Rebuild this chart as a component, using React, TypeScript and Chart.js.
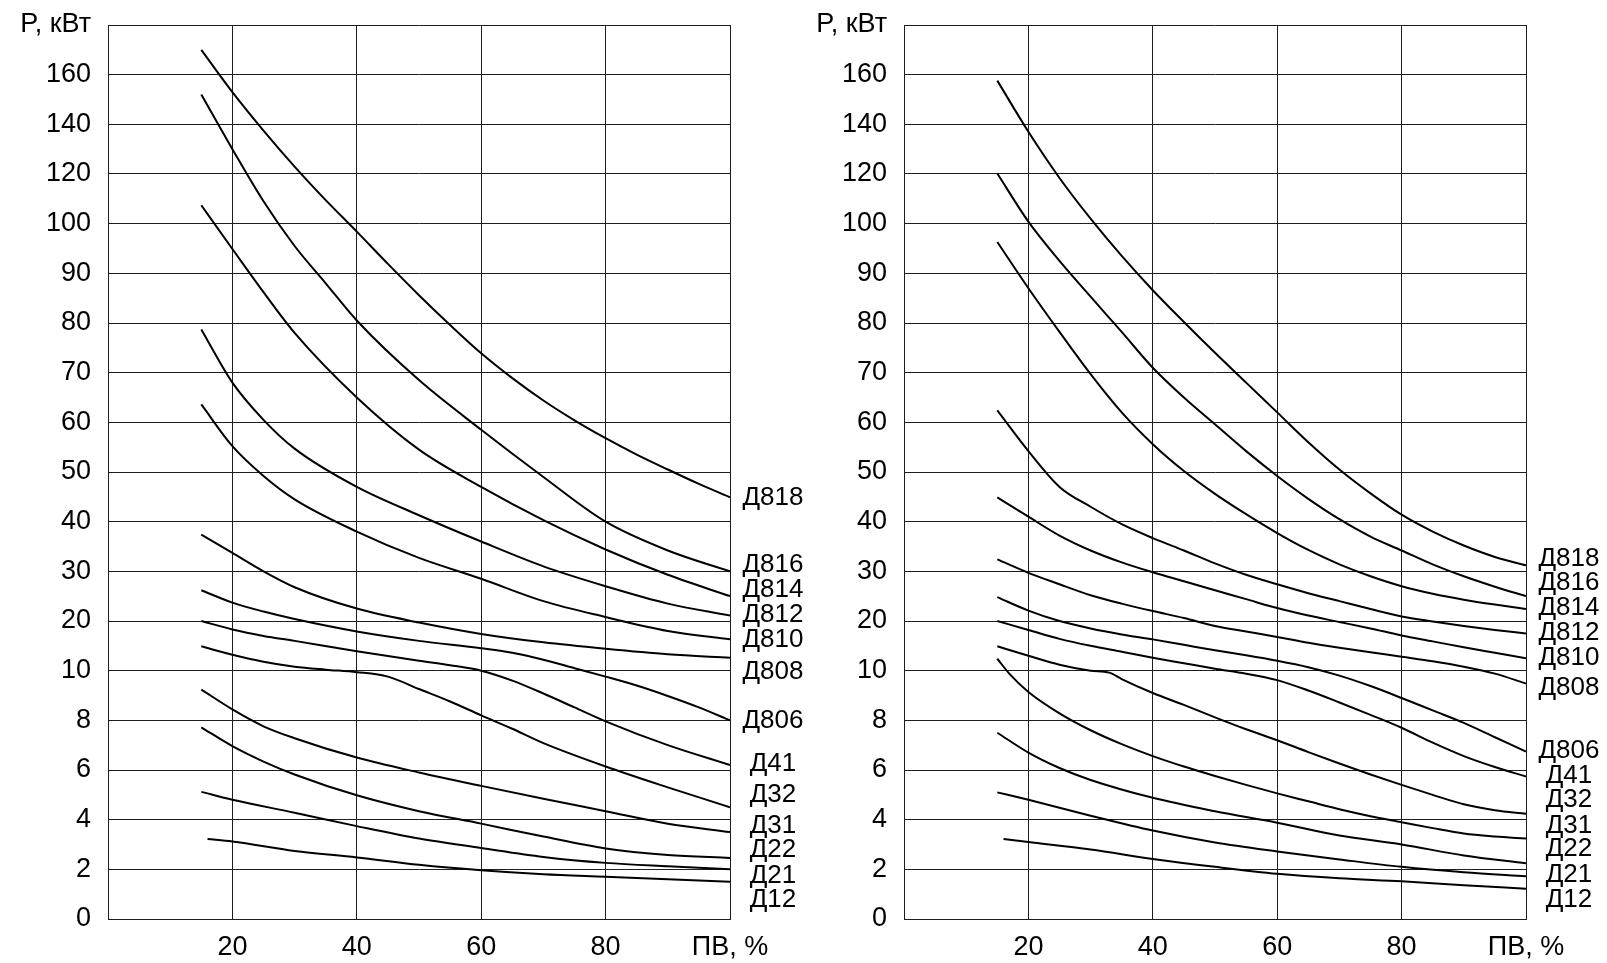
import React, { useEffect, useRef } from 'react';
import { Chart, registerables, LinearScale } from 'chart.js';

Chart.register(...registerables);

// ---------- axis definitions ----------
const Y_TICK_VALUES = [0, 2, 4, 6, 8, 10, 20, 30, 40, 50, 60, 70, 80, 90, 100, 120, 140, 160, 180];
const Y_TICK_LABELS = ['0', '2', '4', '6', '8', '10', '20', '30', '40', '50', '60', '70', '80', '90', '100', '120', '140', '160', 'P, кВт'];
const X_TICK_VALUES = [0, 20, 40, 60, 80, 100];
const X_TICK_LABELS = ['', '20', '40', '60', '80', 'ПВ, %'];
const SERIES_NAMES = ['Д818', 'Д816', 'Д814', 'Д812', 'Д810', 'Д808', 'Д806', 'Д41', 'Д32', 'Д31', 'Д22', 'Д21', 'Д12'];

// ---------- left panel: [ПВ %, P кВт] ----------
const L_D818 = [[15, 170], [20, 153], [25, 137.5], [30, 123], [35, 109.5], [40, 98.4], [45, 91.9], [50, 85.6], [55, 79.6], [60, 73.9], [65, 68.9], [70, 64.4], [75, 60.4], [80, 56.8], [85, 53.5], [90, 50.5], [95, 47.6], [100, 44.9]];
const L_D816 = [[15, 152], [20, 130], [25, 109], [30, 95.5], [35, 88], [40, 80.5], [50, 68.5], [60, 58.5], [70, 49], [80, 40], [90, 34.2], [100, 30]];
const L_D814 = [[15, 107.4], [20, 94.9], [25, 86.2], [30, 78], [40, 65], [50, 54.5], [60, 47], [70, 40.3], [80, 34.4], [90, 29.3], [100, 25]];
const L_D812 = [[15, 78.7], [20, 68], [25, 60.5], [30, 54.7], [40, 47], [50, 41.3], [60, 36], [70, 31], [80, 27], [90, 23.5], [100, 21.1]];
const L_D810 = [[15, 63.6], [20, 55.2], [25, 49.2], [30, 44.5], [40, 38], [50, 32.7], [60, 28.5], [70, 24], [80, 20.8], [90, 18], [100, 16.3]];
const L_D808 = [[15, 37.4], [20, 33.7], [25, 30], [30, 26.8], [40, 22.5], [50, 19.7], [60, 17.4], [70, 15.7], [80, 14.4], [90, 13.3], [100, 12.6]];
const L_D806 = [[15, 26.2], [20, 23.7], [25, 21.9], [30, 20.4], [40, 17.9], [50, 16], [60, 14.5], [65, 13.6], [70, 12.2], [75, 10.5], [80, 9.76], [85, 9.4], [90, 8.98], [95, 8.52], [100, 8.0]];
const L_D41 = [[15, 20], [20, 18.3], [25, 17], [30, 16], [40, 13.9], [50, 12], [55, 11.1], [60, 10], [65, 9.6], [70, 9.08], [75, 8.52], [80, 7.96], [90, 7.0], [100, 6.2]];
const L_D32 = [[15, 14.9], [20, 13.2], [25, 11.8], [30, 10.8], [35, 10.2], [40, 9.94], [45, 9.76], [50, 9.26], [55, 8.76], [60, 8.2], [65, 7.66], [70, 7.08], [80, 6.14], [90, 5.3], [100, 4.5]];
const L_D31 = [[15, 9.24], [20, 8.44], [25, 7.76], [30, 7.28], [40, 6.5], [50, 5.9], [60, 5.36], [70, 4.84], [80, 4.34], [90, 3.84], [100, 3.5]];
const L_D22 = [[15, 7.72], [20, 6.96], [25, 6.34], [30, 5.82], [40, 4.98], [50, 4.34], [60, 3.84], [70, 3.32], [80, 2.84], [90, 2.58], [100, 2.46]];
const L_D21 = [[15, 5.12], [20, 4.8], [30, 4.28], [40, 3.74], [50, 3.24], [60, 2.86], [70, 2.5], [80, 2.26], [90, 2.12], [100, 2.0]];
const L_D12 = [[16, 3.22], [20, 3.12], [30, 2.74], [40, 2.48], [50, 2.18], [60, 1.96], [70, 1.8], [80, 1.7], [90, 1.6], [100, 1.5]];

// ---------- right panel ----------
const R_D818 = [[15, 157.6], [20, 137], [25, 118.4], [30, 102], [35, 93.5], [40, 86.6], [45, 80.2], [50, 74], [55, 68], [60, 62], [65, 56], [70, 50.5], [75, 45.7], [80, 41.4], [85, 38], [90, 35.2], [95, 32.9], [100, 31.2]];
const R_D816 = [[15, 120.2], [20, 100.8], [25, 92.5], [30, 85.3], [35, 78.2], [40, 71], [45, 65], [50, 59.6], [55, 54.2], [60, 49.2], [65, 44.6], [70, 40.5], [75, 37], [80, 34.2], [85, 31.4], [90, 29], [95, 26.9], [100, 25]];
const R_D814 = [[15, 96.3], [20, 87], [25, 78.2], [30, 69.7], [35, 62], [40, 55.6], [45, 50.2], [50, 45.6], [55, 41.5], [60, 37.7], [65, 34.3], [70, 31.4], [75, 29], [80, 27], [85, 25.5], [90, 24.3], [95, 23.3], [100, 22.4]];
const R_D812 = [[15, 62.4], [20, 54.2], [25, 47], [30, 43], [35, 39.5], [40, 36.7], [45, 34.2], [50, 31.6], [55, 29.3], [60, 27.4], [65, 25.6], [70, 24], [75, 22.4], [80, 20.9], [85, 19.9], [90, 19], [95, 18.2], [100, 17.5]];
const R_D810 = [[15, 44.9], [20, 41], [25, 37.2], [30, 34.2], [35, 31.8], [40, 29.8], [45, 28], [50, 26.2], [55, 24.4], [60, 22.6], [65, 21.1], [70, 19.8], [75, 18.5], [80, 17.1], [85, 15.9], [90, 14.7], [95, 13.6], [100, 12.5]];
const R_D808 = [[15, 32.4], [20, 29.7], [25, 27.4], [30, 25.2], [35, 23.5], [40, 22], [45, 20.6], [50, 19], [55, 17.9], [60, 16.8], [65, 15.6], [70, 14.6], [75, 13.7], [80, 12.8], [85, 11.9], [90, 10.8], [95, 9.88], [100, 9.48]];
const R_D806 = [[15, 24.8], [20, 22.1], [25, 20], [30, 18.5], [35, 17.3], [40, 16.3], [45, 15.2], [50, 14.1], [55, 13.1], [60, 12], [65, 10.7], [70, 9.8], [75, 9.38], [80, 8.9], [85, 8.4], [90, 7.9], [95, 7.32], [100, 6.74]];
const R_D41 = [[15, 20], [20, 18.2], [25, 16.4], [30, 15], [35, 13.8], [40, 12.6], [45, 11.5], [50, 10.4], [55, 9.88], [60, 9.62], [65, 9.2], [70, 8.72], [75, 8.22], [80, 7.7], [85, 7.1], [90, 6.56], [95, 6.12], [100, 5.74]];
const R_D32 = [[15, 14.9], [20, 13], [25, 11.2], [30, 10], [33, 9.92], [35, 9.66], [40, 9.1], [45, 8.62], [50, 8.12], [55, 7.64], [60, 7.2], [65, 6.72], [70, 6.26], [75, 5.82], [80, 5.4], [85, 5.0], [90, 4.62], [95, 4.38], [100, 4.24]];
const R_D31 = [[15, 12.4], [17, 9.86], [20, 9.14], [25, 8.28], [30, 7.6], [35, 7.04], [40, 6.56], [45, 6.14], [50, 5.76], [55, 5.4], [60, 5.06], [65, 4.74], [70, 4.42], [75, 4.14], [80, 3.9], [85, 3.66], [90, 3.44], [95, 3.32], [100, 3.24]];
const R_D22 = [[15, 7.5], [20, 6.7], [25, 6.08], [30, 5.6], [40, 4.88], [50, 4.34], [60, 3.88], [70, 3.36], [80, 3.0], [90, 2.56], [100, 2.24]];
const R_D21 = [[15, 5.1], [20, 4.8], [30, 4.16], [40, 3.56], [50, 3.08], [60, 2.72], [70, 2.4], [80, 2.1], [90, 1.88], [100, 1.72]];
const R_D12 = [[16, 3.22], [20, 3.1], [30, 2.8], [40, 2.42], [50, 2.1], [60, 1.82], [70, 1.64], [80, 1.52], [90, 1.36], [100, 1.22]];

// label anchor values (kW) for the curve names at the right of each panel
const LEFT_LABEL_Y = [44.9, 31.4, 26.3, 21.3, 16.2, 9.96, 8.0, 6.26, 5.0, 3.76, 2.79, 1.74, 0.78];
const RIGHT_LABEL_Y = [32.6, 27.7, 22.7, 17.6, 12.6, 9.29, 6.77, 5.78, 4.79, 3.76, 2.81, 1.77, 0.78];

const LEFT_SERIES = [L_D818, L_D816, L_D814, L_D812, L_D810, L_D808, L_D806, L_D41, L_D32, L_D31, L_D22, L_D21, L_D12];
const RIGHT_SERIES = [R_D818, R_D816, R_D814, R_D812, R_D810, R_D808, R_D806, R_D41, R_D32, R_D31, R_D22, R_D21, R_D12];

const FONT_FAMILY = "'Liberation Sans', Arial, Helvetica, sans-serif";

function valueToFraction(v: number): number {
  const n = Y_TICK_VALUES.length - 1;
  for (let i = 0; i < n; i++) {
    const a = Y_TICK_VALUES[i];
    const b = Y_TICK_VALUES[i + 1];
    if (v <= b || i === n - 1) return (i + (v - a) / (b - a)) / n;
  }
  return 1;
}

function fractionToValue(f: number): number {
  const n = Y_TICK_VALUES.length - 1;
  const pos = Math.max(0, Math.min(n, f * n));
  const i = Math.min(n - 1, Math.floor(pos));
  const a = Y_TICK_VALUES[i];
  const b = Y_TICK_VALUES[i + 1];
  return a + (pos - i) * (b - a);
}

// Piecewise-linear axis: grid ticks are evenly spaced regardless of value gaps
class PiecewiseScale extends LinearScale {
  static id = 'piecewise';
  determineDataLimits() {
    (this as any).min = Y_TICK_VALUES[0];
    (this as any).max = Y_TICK_VALUES[Y_TICK_VALUES.length - 1];
  }
  buildTicks() {
    return Y_TICK_VALUES.map((value) => ({ value }));
  }
  getPixelForValue(value: number) {
    return (this as any).getPixelForDecimal(valueToFraction(value));
  }
  getValueForPixel(pixel: number) {
    return fractionToValue((this as any).getDecimalForPixel(pixel));
  }
}
Chart.register(PiecewiseScale as any);

function makeLabelPlugin(values: number[]) {
  return {
    id: 'curveNames',
    afterDatasetsDraw(chart: any) {
      const { ctx, chartArea, scales } = chart;
      ctx.save();
      ctx.font = `26px ${FONT_FAMILY}`;
      ctx.fillStyle = '#000';
      ctx.textAlign = 'center';
      ctx.textBaseline = 'middle';
      SERIES_NAMES.forEach((name, i) => {
        ctx.fillText(name, chartArea.right + 43, scales.y.getPixelForValue(values[i]));
      });
      ctx.restore();
    },
  };
}

type PanelProps = {
  series: number[][][];
  labelY: number[];
  left: number;
  width: number;
  yAxisWidth: number;
  padRight: number;
};

function Panel({ series, labelY, left, width, yAxisWidth, padRight }: PanelProps) {
  const ref = useRef<HTMLCanvasElement>(null);
  useEffect(() => {
    if (!ref.current) return;
    const gridColor = '#1e1e1e';
    const chart = new Chart(ref.current, {
      type: 'line',
      data: {
        datasets: series.map((pts, i) => ({
          label: SERIES_NAMES[i],
          data: pts.map(([x, y]) => ({ x, y })),
          borderColor: '#000',
          borderWidth: 2,
          pointRadius: 0,
          fill: false,
          cubicInterpolationMode: 'monotone' as const,
        })),
      },
      options: {
        responsive: false,
        animation: false,
        events: [],
        layout: { padding: { left: 0, right: padRight, top: 25, bottom: 0 } },
        plugins: { legend: { display: false }, tooltip: { enabled: false }, title: { display: false } },
        scales: {
          x: {
            type: 'linear',
            min: 0,
            max: 100,
            afterFit: (scale: any) => { scale.height = 44; },
            afterBuildTicks: (scale: any) => { scale.ticks = X_TICK_VALUES.map((value) => ({ value })); },
            grid: { color: gridColor, lineWidth: 1, drawTicks: false },
            border: { display: true, color: gridColor, width: 1 },
            ticks: {
              autoSkip: false,
              maxRotation: 0,
              padding: 12,
              color: '#000',
              font: { size: 27, family: FONT_FAMILY },
              callback: (v: any) => {
                const k = X_TICK_VALUES.indexOf(Number(v));
                return k >= 0 ? X_TICK_LABELS[k] : '';
              },
            },
          },
          y: {
            type: 'piecewise' as any,
            afterFit: (scale: any) => { scale.width = yAxisWidth; },
            grid: { color: gridColor, lineWidth: 1, drawTicks: true, tickLength: 17, tickColor: 'rgba(0,0,0,0)' },
            border: { display: true, color: gridColor, width: 1 },
            ticks: {
              autoSkip: false,
              padding: 0,
              color: '#000',
              font: { size: 27, family: FONT_FAMILY },
              callback: (_v: any, index: number) => Y_TICK_LABELS[index],
            },
          },
        } as any,
      },
      plugins: [makeLabelPlugin(labelY)],
    } as any);
    return () => chart.destroy();
  }, []);
  return (
    <canvas
      ref={ref}
      width={width}
      height={963}
      style={{ position: 'absolute', left, top: 0, width, height: 963 }}
    />
  );
}

export default function App() {
  return (
    <div style={{ position: 'fixed', left: 0, top: 0, width: 1607, height: 963, background: '#fff', overflow: 'hidden' }}>
      <Panel series={LEFT_SERIES} labelY={LEFT_LABEL_Y} left={0} width={830} yAxisWidth={108} padRight={100} />
      <Panel series={RIGHT_SERIES} labelY={RIGHT_LABEL_Y} left={790} width={817} yAxisWidth={114} padRight={81} />
    </div>
  );
}
